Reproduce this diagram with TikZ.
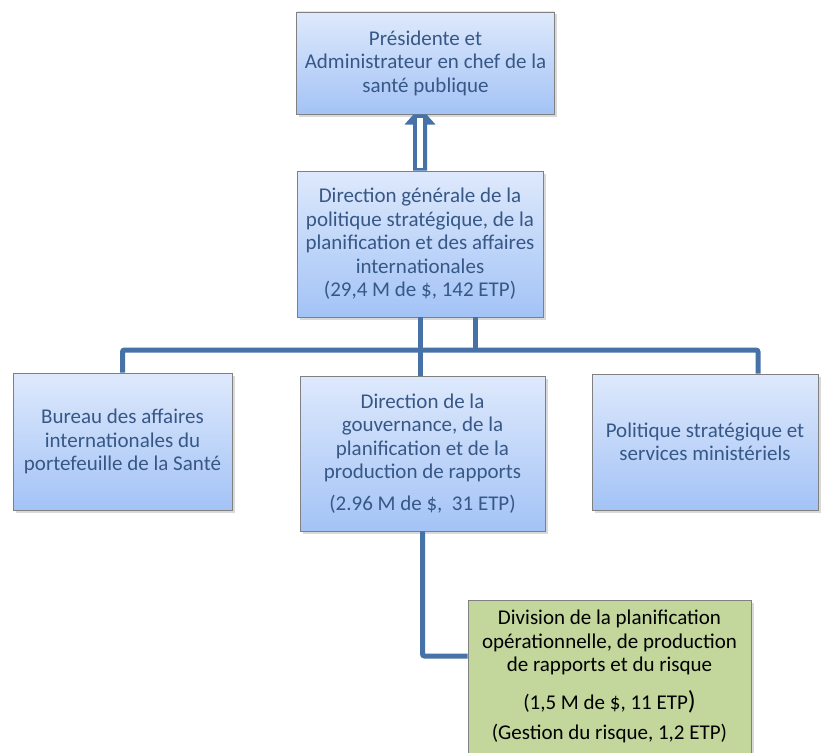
\documentclass[tikz,border=0pt]{standalone}
\usepackage{fontspec}
\setmainfont{Carlito}
\usetikzlibrary{shadows}

\definecolor{boxtop}{RGB}{222,233,252}
\definecolor{boxbot}{RGB}{163,195,246}
\definecolor{boxline}{RGB}{128,128,128}
\definecolor{divgreen}{RGB}{195,214,155}
\definecolor{linkblue}{RGB}{70,114,168}
\definecolor{textblue}{RGB}{55,88,135}

\tikzset{
    unit/.style={draw=boxline, line width=0.8pt, align=center, inner sep=0pt,
        font=\fontsize{21}{23.5}\selectfont,
        drop shadow={shadow xshift=2.5pt, shadow yshift=-2.5pt, opacity=0.3}},
    bluebox/.style={unit, top color=boxtop, bottom color=boxbot, text=textblue},
    greenbox/.style={unit, fill=divgreen, text=black},
    link/.style={draw=linkblue, line width=5pt, rounded corners=2pt}
}

\begin{document}
\begin{tikzpicture}[x=1pt, y=-1pt]
    \useasboundingbox (0,0) rectangle (824,752);

    % Boxes
    \node[bluebox, minimum width=258pt, minimum height=102pt] (pres) at (425.5,63)
        {Présidente et\\Administrateur en chef de la\\santé publique};
    \node[bluebox, minimum width=246pt, minimum height=146pt] (dg) at (420,244)
        {Direction générale de la\\politique stratégique, de la\\planification et des affaires\\internationales\\(29,4 M de \$, 142 ETP)};
    \node[bluebox, minimum width=219pt, minimum height=137pt] (bur) at (122.5,441.5)
        {Bureau des affaires\\internationales du\\portefeuille de la Santé};
    \node[bluebox, minimum width=245pt, minimum height=155pt] (gouv) at (422.5,453.5)
        {Direction de la\\gouvernance, de la\\planification et de la\\production de rapports\\[8.5pt](2.96 M de \$,\ \ 31 ETP)};
    \node[bluebox, minimum width=226pt, minimum height=136pt] (pol) at (705,442)
        {Politique stratégique et\\services ministériels};
    \node[greenbox, minimum width=283pt, minimum height=153pt] (div) at (609.5,676.5)
        {Division de la planification\\opérationnelle, de production\\de rapports et du risque\\[14.5pt](1,5 M de \$, 11 ETP{\fontsize{26}{23.5}\selectfont)}\\[6.5pt](Gestion du risque, 1,2 ETP)};

    % Hollow arrow up to the top box
    \coordinate (tip) at (dg.north |- pres.south);
    \fill[linkblue] ([xshift=-7pt]dg.north) -- ++(0,-46) -- ++(-8.5,0)
        -- ([xshift=-6.5pt]tip) -- ([xshift=6.5pt]tip)
        -- ([xshift=15.5pt,yshift=46pt]dg.north) -- ([xshift=7pt,yshift=46pt]dg.north)
        -- ([xshift=7pt]dg.north) -- cycle;
    \fill[white] ([xshift=-3pt,yshift=3pt]dg.north) rectangle ([xshift=3pt,yshift=-4pt]tip);

    % Links
    \coordinate (bus) at (0,350);
    \coordinate (polin) at ([xshift=53pt]pol.north);
    \coordinate (dgr) at ([xshift=55pt]dg.south);
    \coordinate (divin) at ([yshift=20.5pt]div.west);
    \draw[link] (bur.north) |- (polin |- bus) -- (polin);
    \draw[link] (dg.south) -- (dg.south |- gouv.north);
    \draw[link] (dgr) -- (dgr |- bus);
    \draw[link] (gouv.south) |- (divin);
\end{tikzpicture}
\end{document}
